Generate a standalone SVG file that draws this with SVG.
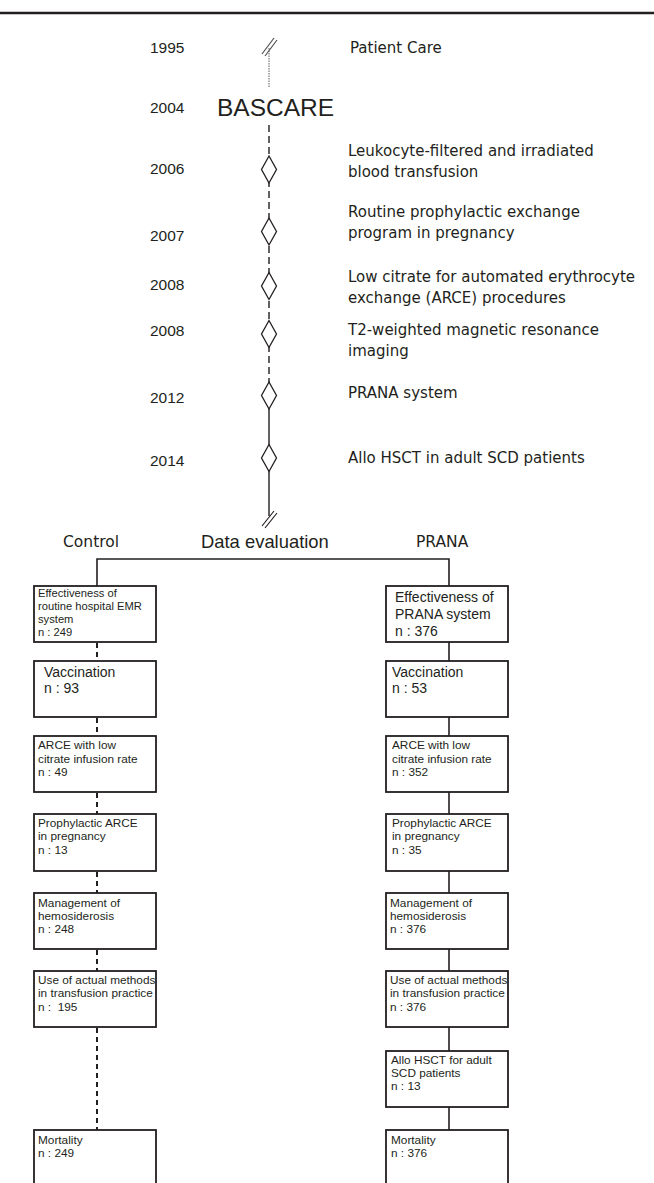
<svg xmlns="http://www.w3.org/2000/svg" width="654" height="1183" viewBox="0 0 654 1183">
<style>
.yr{font-family:"Liberation Sans",Arial,sans-serif;font-size:15.5px;fill:#231f20}
.ds{font-family:"DejaVu Sans","Noto Sans",sans-serif;font-size:15px;fill:#231f20}
.hd{font-family:"DejaVu Sans","Noto Sans",sans-serif;font-size:15.5px;fill:#231f20}
.bx{fill:#fff;stroke:#231f20;stroke-width:1.8}
.t11{font-family:"Liberation Sans",Arial,sans-serif;font-size:11.2px;fill:#231f20}
.t12{font-family:"Liberation Sans",Arial,sans-serif;font-size:11.8px;fill:#231f20}
.t14{font-family:"Liberation Sans",Arial,sans-serif;font-size:14px;fill:#231f20}
.dia{fill:#fff;stroke:#231f20;stroke-width:1.3}
.sol{stroke:#231f20;stroke-width:1.6;fill:none}
.dash{stroke:#231f20;stroke-width:2;fill:none;stroke-dasharray:5 4}
</style>
<rect x="0" y="0" width="654" height="1183" fill="#fff"/>
<line x1="0" y1="13" x2="654" y2="13" stroke="#231f20" stroke-width="2.5"/>

<g id="connectors">
  <!-- timeline -->
  <line x1="269" y1="48" x2="269" y2="88" stroke="#777" stroke-width="1.2" stroke-dasharray="1.5 1"/>
  <line x1="262" y1="54" x2="274" y2="38" stroke="#555" stroke-width="1.2"/>
  <line x1="265" y1="56" x2="277" y2="40" stroke="#555" stroke-width="1.2"/>
  <line x1="269" y1="125" x2="269" y2="383" stroke="#231f20" stroke-width="1.4" stroke-dasharray="7 4"/>
  <line x1="269" y1="408" x2="269" y2="516" stroke="#231f20" stroke-width="1.4"/>
  <line x1="262" y1="526" x2="274" y2="511" stroke="#231f20" stroke-width="1.2"/>
  <line x1="265" y1="528" x2="277" y2="513" stroke="#231f20" stroke-width="1.2"/>
  <!-- split -->
  <polyline class="sol" points="97,586 97,559 449,559 449,586"/>
  <!-- control (dashed) -->
  <line class="dash" x1="97" y1="643" x2="97" y2="661"/>
  <line class="dash" x1="97" y1="718" x2="97" y2="736"/>
  <line class="dash" x1="97" y1="793" x2="97" y2="814"/>
  <line class="dash" x1="97" y1="872" x2="97" y2="893"/>
  <line class="dash" x1="97" y1="950" x2="97" y2="971"/>
  <line class="dash" x1="97" y1="1028" x2="97" y2="1130"/>
  <!-- PRANA (solid) -->
  <line class="sol" x1="449" y1="642" x2="449" y2="661"/>
  <line class="sol" x1="449" y1="717" x2="449" y2="736"/>
  <line class="sol" x1="449" y1="792" x2="449" y2="814"/>
  <line class="sol" x1="449" y1="871" x2="449" y2="893"/>
  <line class="sol" x1="449" y1="949" x2="449" y2="971"/>
  <line class="sol" x1="449" y1="1027" x2="449" y2="1051"/>
  <line class="sol" x1="449" y1="1107" x2="449" y2="1130"/>
</g>

<g id="ev1995"><text class="yr" x="150" y="53">1995</text><text class="ds" x="350" y="53">Patient Care</text></g>
<g id="ev2004"><text class="yr" x="150" y="113">2004</text><text x="217" y="116" style="font-family:'Liberation Sans',Arial,sans-serif;font-size:24.5px;fill:#231f20">BASCARE</text></g>
<g id="ev2006"><polygon class="dia" points="269,156 276.5,169.5 269,183 261.5,169.5"/><text class="yr" x="150" y="174">2006</text><text class="ds" x="348" y="156">Leukocyte-filtered and irradiated</text><text class="ds" x="348" y="177">blood transfusion</text></g>
<g id="ev2007"><polygon class="dia" points="269,218 276.5,231.5 269,245 261.5,231.5"/><text class="yr" x="150" y="241">2007</text><text class="ds" x="348" y="217">Routine prophylactic exchange</text><text class="ds" x="348" y="238">program in pregnancy</text></g>
<g id="ev2008a"><polygon class="dia" points="269,272.5 276.5,286 269,299.5 261.5,286"/><text class="yr" x="150" y="290">2008</text><text class="ds" x="348" y="282">Low citrate for automated erythrocyte</text><text class="ds" x="348" y="303">exchange (ARCE) procedures</text></g>
<g id="ev2008b"><polygon class="dia" points="269,320.5 276.5,334 269,347.5 261.5,334"/><text class="yr" x="150" y="336">2008</text><text class="ds" x="348" y="335">T2-weighted magnetic resonance</text><text class="ds" x="348" y="356">imaging</text></g>
<g id="ev2012"><polygon class="dia" points="269,382 276.5,395.5 269,409 261.5,395.5"/><text class="yr" x="150" y="403">2012</text><text class="ds" x="348" y="398">PRANA system</text></g>
<g id="ev2014"><polygon class="dia" points="269,444.5 276.5,458 269,471.5 261.5,458"/><text class="yr" x="150" y="466">2014</text><text class="ds" x="348" y="463">Allo HSCT in adult SCD patients</text></g>

<g id="headers">
  <text class="hd" x="63" y="547">Control</text>
  <text x="201" y="548" style="font-family:'Liberation Sans',Arial,sans-serif;font-size:18.4px;fill:#231f20">Data evaluation</text>
  <text class="hd" x="416" y="547">PRANA</text>
</g>

<g id="c1"><rect class="bx" x="34" y="586" width="122" height="56"/><text class="t11" x="38"><tspan x="38" y="597">Effectiveness of</tspan><tspan x="38" y="610">routine hospital EMR</tspan><tspan x="38" y="623">system</tspan><tspan x="38" y="636">n : 249</tspan></text></g>
<g id="c2"><rect class="bx" x="34" y="661" width="122" height="56"/><text class="t14"><tspan x="44" y="677">Vaccination</tspan><tspan x="44" y="693">n : 93</tspan></text></g>
<g id="c3"><rect class="bx" x="34" y="736" width="122" height="56"/><text class="t12"><tspan x="38" y="749">ARCE with low</tspan><tspan x="38" y="763">citrate infusion rate</tspan><tspan x="38" y="776">n : 49</tspan></text></g>
<g id="c4"><rect class="bx" x="34" y="814" width="122" height="57"/><text class="t12"><tspan x="38" y="827">Prophylactic ARCE</tspan><tspan x="38" y="840">in pregnancy</tspan><tspan x="38" y="854">n : 13</tspan></text></g>
<g id="c5"><rect class="bx" x="34" y="893" width="122" height="56"/><text class="t12"><tspan x="38" y="907">Management of</tspan><tspan x="38" y="920">hemosiderosis</tspan><tspan x="38" y="933">n : 248</tspan></text></g>
<g id="c6"><rect class="bx" x="34" y="971" width="122" height="56"/><text class="t12"><tspan x="38" y="984">Use of actual methods</tspan><tspan x="38" y="997">in transfusion practice</tspan><tspan x="38" y="1011" xml:space="preserve">n :  195</tspan></text></g>
<g id="c7"><rect class="bx" x="34" y="1130" width="122" height="62"/><text class="t12"><tspan x="38" y="1144">Mortality</tspan><tspan x="38" y="1157">n : 249</tspan></text></g>

<g id="p1"><rect class="bx" x="386" y="586" width="122" height="56"/><text class="t14"><tspan x="395" y="602">Effectiveness of</tspan><tspan x="395" y="619">PRANA system</tspan><tspan x="395" y="636">n : 376</tspan></text></g>
<g id="p2"><rect class="bx" x="386" y="661" width="122" height="56"/><text class="t14"><tspan x="392" y="677">Vaccination</tspan><tspan x="392" y="693">n : 53</tspan></text></g>
<g id="p3"><rect class="bx" x="386" y="736" width="122" height="56"/><text class="t12"><tspan x="392" y="749">ARCE with low</tspan><tspan x="392" y="763">citrate infusion rate</tspan><tspan x="392" y="776">n : 352</tspan></text></g>
<g id="p4"><rect class="bx" x="386" y="814" width="122" height="57"/><text class="t12"><tspan x="392" y="827">Prophylactic ARCE</tspan><tspan x="392" y="840">in pregnancy</tspan><tspan x="392" y="854">n : 35</tspan></text></g>
<g id="p5"><rect class="bx" x="386" y="893" width="122" height="56"/><text class="t12"><tspan x="390" y="907">Management of</tspan><tspan x="390" y="920">hemosiderosis</tspan><tspan x="390" y="933">n : 376</tspan></text></g>
<g id="p6"><rect class="bx" x="386" y="971" width="122" height="56"/><text class="t12"><tspan x="390" y="984">Use of actual methods</tspan><tspan x="390" y="997">in transfusion practice</tspan><tspan x="390" y="1011">n : 376</tspan></text></g>
<g id="p7"><rect class="bx" x="386" y="1051" width="122" height="56"/><text class="t12"><tspan x="391" y="1064">Allo HSCT for adult</tspan><tspan x="391" y="1077">SCD patients</tspan><tspan x="391" y="1090">n : 13</tspan></text></g>
<g id="p8"><rect class="bx" x="386" y="1130" width="122" height="62"/><text class="t12"><tspan x="391" y="1144">Mortality</tspan><tspan x="391" y="1157">n : 376</tspan></text></g>
</svg>
